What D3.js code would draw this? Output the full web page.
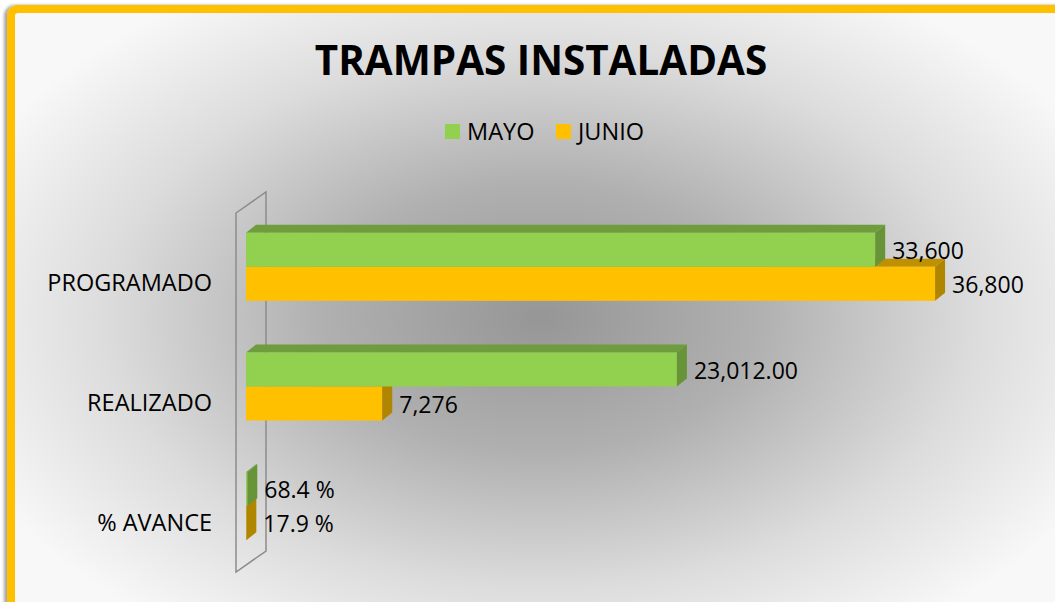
<!DOCTYPE html>
<html>
<head>
<meta charset="utf-8">
<title>Trampas instaladas</title>
<script src="https://cdn.jsdelivr.net/npm/d3@7"></script>
<style>
  body { margin: 0; background: #fff; }
  text { font-family: "Open Sans", sans-serif; fill: #000; }
</style>
</head>
<body>
<script>
// data
var categories = ["PROGRAMADO", "REALIZADO", "% AVANCE"];
var seriesNames = ["MAYO", "JUNIO"];
var mayo = [33600, 23012, 68.4];
var junio = [36800, 7276, 17.9];
var mayoLabels = ["33,600", "23,012.00", "68.4 %"];
var junioLabels = ["36,800", "7,276", "17.9 %"];
var xMax = 40000;

var W = 1055, H = 602;
var colors = {
  MAYO:  { front: "#92D050", top: "#6F9C3C", side: "#679438" },
  JUNIO: { front: "#FFC000", top: "#BF9000", side: "#B08600" }
};

var svg = d3.select("body").append("svg")
  .attr("width", W)
  .attr("height", H);

var defs = svg.append("defs");
var grad = defs.append("radialGradient")
  .attr("id", "bg")
  .attr("gradientUnits", "userSpaceOnUse")
  .attr("cx", 540).attr("cy", 318).attr("r", 620)
  .attr("gradientTransform", "translate(540,318) scale(1,0.62) translate(-540,-318)");
grad.append("stop").attr("offset", 0).attr("stop-color", "#969696");
grad.append("stop").attr("offset", 0.35).attr("stop-color", "#b0b0b0");
grad.append("stop").attr("offset", 0.7).attr("stop-color", "#dcdcdc");
grad.append("stop").attr("offset", 1).attr("stop-color", "#f8f8f8");

var shadow = defs.append("filter").attr("id", "shadow")
  .attr("x", -0.05).attr("y", -0.05).attr("width", 1.1).attr("height", 1.1);
shadow.append("feDropShadow")
  .attr("dx", -3).attr("dy", 0).attr("stdDeviation", 1.5)
  .attr("flood-color", "#000").attr("flood-opacity", 0.35);

// chart area with yellow border (runs off the right and bottom)
svg.append("rect")
  .attr("x", 11).attr("y", 9)
  .attr("width", 1100).attr("height", 660)
  .attr("rx", 7)
  .attr("fill", "url(#bg)")
  .attr("stroke", "#FFC000")
  .attr("stroke-width", 8)
  .attr("filter", "url(#shadow)");

// title
svg.append("text")
  .attr("x", 541).attr("y", 75)
  .attr("text-anchor", "middle")
  .style("font-size", "40.4px")
  .style("font-weight", "bold")
  .text("TRAMPAS INSTALADAS");

// legend
var legend = svg.append("g").attr("transform", "translate(445,124)");
var legX = [0, 111];
seriesNames.forEach(function(s, i) {
  var g = legend.append("g").attr("transform", "translate(" + legX[i] + ",0)");
  g.append("rect").attr("width", 15).attr("height", 15).attr("fill", colors[s].front);
  g.append("text").attr("x", 22).attr("y", 16).style("font-size", "23.5px").text(s);
});

// scales
var x = d3.scaleLinear().domain([0, xMax]).range([246, 995]);
var y = d3.scaleBand().domain(categories).range([213, 572]);
var sub = d3.scaleBand().domain(seriesNames).range([-34, 34]);

// depth vectors: wall and bars
var wallDx = 30, wallDy = -21;
var barDx = 10, barDy = -8;
var wallX = x(0) - 10;

// side wall (category axis floor)
var y0 = y.range()[0], y1 = y.range()[1];
svg.append("path")
  .attr("d", "M" + wallX + "," + y0 +
             "L" + (wallX + wallDx) + "," + (y0 + wallDy) +
             "L" + (wallX + wallDx) + "," + (y1 + wallDy) +
             "L" + wallX + "," + y1 + "Z")
  .attr("fill", "none")
  .attr("stroke", "#8c8c8c")
  .attr("stroke-width", 1.5);

// category labels
var axis = svg.append("g")
  .attr("transform", "translate(212,11)")
  .call(d3.axisLeft(y).tickSize(0).tickPadding(0));
axis.select(".domain").remove();
axis.selectAll("text")
  .style("font-family", "'Open Sans', sans-serif")
  .style("font-size", "23.5px")
  .attr("fill", "#000");

function center(i) { return y(categories[i]) + y.bandwidth() / 2 - 6; }

var rows = [];
categories.forEach(function(c, i) {
  // JUNIO first so MAYO sits on top of its top face
  rows.push({ s: "JUNIO", i: i, v: junio[i], label: junioLabels[i] });
  rows.push({ s: "MAYO", i: i, v: mayo[i], label: mayoLabels[i] });
});

var bars = svg.selectAll("g.bar")
  .data(rows)
  .enter().append("g")
  .attr("class", "bar");

bars.each(function(d) {
  var g = d3.select(this);
  var xa = x(0), xb = x(d.v);
  var ya = center(d.i) + sub(d.s), yb = ya + sub.bandwidth();
  var col = colors[d.s];
  g.append("path")
    .attr("d", "M" + xa + "," + ya + "L" + (xa + barDx) + "," + (ya + barDy) +
               "L" + (xb + barDx) + "," + (ya + barDy) + "L" + xb + "," + ya + "Z")
    .attr("fill", col.top);
  g.append("rect")
    .attr("x", xa).attr("y", ya)
    .attr("width", xb - xa).attr("height", yb - ya)
    .attr("fill", col.front);
  g.append("path")
    .attr("d", "M" + xb + "," + ya + "L" + (xb + barDx) + "," + (ya + barDy) +
               "L" + (xb + barDx) + "," + (yb + barDy) + "L" + xb + "," + yb + "Z")
    .attr("fill", col.side);
});

// value labels
svg.selectAll("text.val")
  .data(rows)
  .enter().append("text")
  .attr("class", "val")
  .attr("x", function(d) { return x(d.v) + barDx + 7; })
  .attr("y", function(d) { return center(d.i) + sub(d.s) + sub.bandwidth() / 2 + 9; })
  .style("font-size", "23px")
  .text(function(d) { return d.label; });
</script>
</body>
</html>
